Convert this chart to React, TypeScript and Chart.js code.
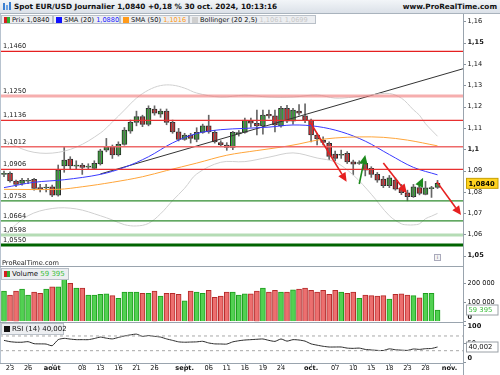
import React, { useEffect, useRef } from "react";
import { Chart, registerables } from "chart.js";
Chart.register(...registerables);

// ---------------- DATA ----------------
const OPEN = [1.0882, 1.0887, 1.0851, 1.0840, 1.0850, 1.0859, 1.0818, 1.0818, 1.0824, 1.0785, 1.0922, 1.0954, 1.0921, 1.0926, 1.0916, 1.0910, 1.0931, 1.0996, 1.1012, 1.0973, 1.1023, 1.1085, 1.1126, 1.1153, 1.1117, 1.1189, 1.1165, 1.1179, 1.1126, 1.1082, 1.1046, 1.1067, 1.1046, 1.1079, 1.1110, 1.1079, 1.1031, 1.1020, 1.1009, 1.1072, 1.1079, 1.1132, 1.1122, 1.1110, 1.1164, 1.1157, 1.1110, 1.1192, 1.1132, 1.1179, 1.1157, 1.1137, 1.1067, 1.1043, 1.1028, 1.0977, 1.0972, 1.0981, 1.0941, 1.0933, 1.0934, 1.0910, 1.0882, 1.0860, 1.0829, 1.0855, 1.0813, 1.0796, 1.0777, 1.0820, 1.0788, 1.0815, 1.0821];
const HIGH = [1.0898, 1.0894, 1.0855, 1.0863, 1.0863, 1.0863, 1.0835, 1.0835, 1.0832, 1.0926, 1.1012, 1.0965, 1.0946, 1.0934, 1.0932, 1.0946, 1.1000, 1.1051, 1.1020, 1.1035, 1.1102, 1.1137, 1.1179, 1.1160, 1.1204, 1.1204, 1.1189, 1.1189, 1.1137, 1.1098, 1.1075, 1.1075, 1.1101, 1.1118, 1.1160, 1.1089, 1.1040, 1.1031, 1.1084, 1.1088, 1.1146, 1.1146, 1.1184, 1.1184, 1.1184, 1.1184, 1.1202, 1.1206, 1.1192, 1.1210, 1.1213, 1.1142, 1.1075, 1.1058, 1.1035, 1.0992, 1.0996, 1.0989, 1.0949, 1.0946, 1.0946, 1.0918, 1.0891, 1.0873, 1.0877, 1.0865, 1.0835, 1.0808, 1.0835, 1.0835, 1.0849, 1.0826, 1.0854];
const LOW = [1.0871, 1.0845, 1.0824, 1.0832, 1.0838, 1.0808, 1.0800, 1.0800, 1.0777, 1.0780, 1.0892, 1.0907, 1.0907, 1.0882, 1.0907, 1.0907, 1.0926, 1.0988, 1.0957, 1.0968, 1.1019, 1.1075, 1.1110, 1.1106, 1.1110, 1.1160, 1.1150, 1.1115, 1.1075, 1.1039, 1.1042, 1.1029, 1.1035, 1.1075, 1.1075, 1.1029, 1.1012, 1.0995, 1.0998, 1.1062, 1.1075, 1.1104, 1.1067, 1.1071, 1.1146, 1.1082, 1.1104, 1.1125, 1.1118, 1.1160, 1.1125, 1.1035, 1.1020, 1.1020, 1.0951, 1.0945, 1.0957, 1.0933, 1.0880, 1.0929, 1.0875, 1.0868, 1.0845, 1.0820, 1.0820, 1.0808, 1.0787, 1.0758, 1.0774, 1.0786, 1.0786, 1.0774, 1.0816];
const CLOSE = [1.0885, 1.0851, 1.0835, 1.0854, 1.0852, 1.0816, 1.0815, 1.0822, 1.0785, 1.0902, 1.0949, 1.0922, 1.0924, 1.0915, 1.0919, 1.0934, 1.0993, 1.1012, 1.0973, 1.1023, 1.1090, 1.1126, 1.1153, 1.1117, 1.1192, 1.1169, 1.1179, 1.1126, 1.1082, 1.1046, 1.1067, 1.1051, 1.1079, 1.1110, 1.1082, 1.1035, 1.1020, 1.1009, 1.1079, 1.1078, 1.1137, 1.1122, 1.1110, 1.1160, 1.1157, 1.1114, 1.1192, 1.1132, 1.1184, 1.1169, 1.1137, 1.1067, 1.1048, 1.1032, 1.0967, 1.0957, 1.0974, 1.0941, 1.0930, 1.0935, 1.0902, 1.0882, 1.0855, 1.0829, 1.0866, 1.0813, 1.0796, 1.0777, 1.0824, 1.0793, 1.0819, 1.0817, 1.0840];
const VOLUME = [159000, 138000, 159000, 170000, 138000, 153000, 147000, 170000, 181000, 181000, 226000, 200000, 174000, 174000, 138000, 138000, 142000, 144000, 135000, 121000, 153000, 153000, 153000, 147000, 147000, 159000, 133000, 147000, 147000, 142000, 108000, 159000, 153000, 147000, 163000, 126000, 133000, 153000, 153000, 138000, 144000, 144000, 159000, 174000, 153000, 163000, 153000, 153000, 165000, 170000, 174000, 163000, 153000, 163000, 142000, 163000, 153000, 147000, 153000, 121000, 138000, 135000, 133000, 135000, 117000, 142000, 145000, 138000, 135000, 124000, 147000, 147000, 59395];
const RSI = [58, 54.5, 53, 53, 54.5, 49, 48.5, 48, 43.6, 60, 63.5, 61.5, 60, 60, 60, 63, 67, 64, 62, 66, 70, 73, 75, 69, 71, 69, 67, 62, 58, 54, 53, 53.5, 54, 55.5, 51, 48.5, 48.2, 48, 54, 57, 59, 60, 61, 61.8, 58, 55.3, 61.8, 56, 60, 59, 56, 48.5, 45, 42, 40, 40, 40, 37, 36.3, 37, 33.5, 32, 30.8, 30.5, 35, 32.5, 31.5, 30.8, 34.6, 33.5, 35.4, 36, 40.002];

const SMA20_X = [0, 5, 10, 16, 20, 24, 28, 32, 36, 40, 44, 48, 52, 56, 60, 64, 68, 72];
const SMA20_Y = [1.0820, 1.0845, 1.0857, 1.0882, 1.0915, 1.0965, 1.1030, 1.1074, 1.1092, 1.1098, 1.1104, 1.1114, 1.1107, 1.1082, 1.1038, 1.0975, 1.0915, 1.0880];
const SMA50_X = [0, 9, 13, 18, 23, 27, 32, 37, 42, 46, 49, 52, 55, 59, 63, 67, 72];
const SMA50_Y = [1.0812, 1.0812, 1.0824, 1.0845, 1.0871, 1.0900, 1.0935, 1.0972, 1.0994, 1.1010, 1.1025, 1.1043, 1.1053, 1.1058, 1.1056, 1.1043, 1.1016];
const BB_X = [0, 4, 8, 12, 16, 18, 20, 22, 24, 26, 28, 30, 32, 36, 40, 44, 48, 52, 55, 58, 61, 64, 66, 67, 68, 69, 70, 71, 72];
const BB_UP = [1.1043, 1.0992, 1.0982, 1.1010, 1.1076, 1.1128, 1.1184, 1.1240, 1.1278, 1.1299, 1.1301, 1.1287, 1.1264, 1.1245, 1.1254, 1.1245, 1.1245, 1.1255, 1.1240, 1.1245, 1.1255, 1.1262, 1.1240, 1.1215, 1.1185, 1.1160, 1.1120, 1.1090, 1.1061];
const BB_LOW = [1.0597, 1.0688, 1.0722, 1.0720, 1.0688, 1.0668, 1.0646, 1.0640, 1.0652, 1.0697, 1.0759, 1.0817, 1.0884, 1.0939, 1.0942, 1.0963, 1.0983, 1.0959, 1.0940, 1.0879, 1.0789, 1.0688, 1.0650, 1.0645, 1.0645, 1.0650, 1.0674, 1.0686, 1.0699];

const LEVELS = [1.1460, 1.1250, 1.1136, 1.1012, 1.0906, 1.0758, 1.0664, 1.0598, 1.0550];
const LEVEL_LABELS = ["1,1460", "1,1250", "1,1136", "1,1012", "1,0906", "1,0758", "1,0664", "1,0598", "1,0550"];
const LEVEL_COLORS = ["#e52020", "rgba(240,120,120,0.6)", "#e83030", "#ee6a6a", "#e83030", "#2e8b2e", "#2e8b2e", "#b5dcb5", "#006400"];
const LEVEL_WIDTHS = [1.2, 3, 1.2, 1.6, 1.2, 1.2, 1.2, 3, 3];

const TREND_X = [16, 76.25];
const TREND_Y = [1.0884, 1.1378];

const ARROW_X0 = [50.8, 59.0, 63.0, 68.9, 71.9];
const ARROW_Y0 = [1.1129, 1.0837, 1.0935, 1.0824, 1.0847];
const ARROW_X1 = [56.9, 60.0, 66.9, 69.6, 75.9];
const ARROW_Y1 = [1.0847, 1.0973, 1.0794, 1.0866, 1.0691];
const ARROW_COLORS = ["#e62020", "#1d8a1d", "#e62020", "#1d8a1d", "#e62020"];

const X_TICKS = [1, 4, 8, 13, 16, 19, 22, 25, 30, 34, 37, 40, 43, 46, 51, 55, 58, 61, 64, 67, 70, 74];
const X_TICK_LABELS = ["23", "26", "août", "08", "13", "16", "21", "26", "sept.", "06", "11", "16", "19", "24", "oct.", "07", "10", "15", "18", "23", "28", "nov."];
const X_TICK_BOLD = ["août", "sept.", "oct.", "nov."];

const PRICE_TICKS = [1.05, 1.06, 1.07, 1.08, 1.09, 1.1, 1.11, 1.12, 1.13, 1.14, 1.15, 1.16];
const PRICE_TICK_LABELS = ["1,05", "1,06", "1,07", "1,08", "1,09", "1,1", "1,11", "1,12", "1,13", "1,14", "1,15", "1,16"];
const PRICE_TICK_BOLD = ["1,05", "1,1", "1,15"];
const VOL_TICKS = [0, 100000, 200000];
const VOL_TICK_LABELS = ["0", "100 000", "200 000"];
const VOL_TICK_BOLD = ["0"];
const RSI_TICKS = [0, 50, 100];
const RSI_TICK_LABELS = ["0", "50", "100"];
const RSI_TICK_BOLD = ["0", "100"];
const RSI_LEVELS = [70, 30];

const X_MIN = -0.664;
const X_MAX = 76.23;
const FONT = "'DejaVu Sans', sans-serif";

// ---------------- HELPERS ----------------
const N = CLOSE.length;
const up = (i: number) => CLOSE[i] >= OPEN[i];
const pts = (xs: number[], ys: number[]) => xs.map((x, i) => ({ x, y: ys[i] }));

const rightAxisPlugin = {
  id: "rightAxis",
  afterDraw(chart: any) {
    const o = chart.options.plugins.rightAxis;
    if (!o) return;
    const { ctx, chartArea } = chart;
    const ys = chart.scales.y;
    ctx.save();
    ctx.textBaseline = "middle";
    ctx.textAlign = "left";
    o.ticks.forEach((v: number, k: number) => {
      let y = ys.getPixelForValue(v);
      const lab = o.labels[k];
      if (y >= chartArea.top && y <= chartArea.bottom) {
        ctx.strokeStyle = "#8a949e";
        ctx.lineWidth = 1;
        ctx.beginPath();
        ctx.moveTo(chartArea.right, Math.round(y) + 0.5);
        ctx.lineTo(chartArea.right + 3, Math.round(y) + 0.5);
        ctx.stroke();
      }
      y = Math.min(Math.max(y, chartArea.top + 4.7), chartArea.bottom - 4.5);
      ctx.font = (o.bold.includes(lab) ? "bold " : "") + "6.6px " + FONT;
      ctx.fillStyle = "#111";
      ctx.fillText(lab, chartArea.right + 4.5, y);
    });
    if (o.tag) {
      const y = ys.getPixelForValue(o.tag.value);
      ctx.font = (o.tag.bold ? "bold " : "") + "6.8px " + FONT;
      const w = 30;
      ctx.fillStyle = o.tag.bg;
      ctx.fillRect(chartArea.right + 3.5, y - 5, w + 1.5, 10);
      ctx.strokeStyle = o.tag.border;
      ctx.lineWidth = 1;
      ctx.strokeRect(chartArea.right + 3.5, y - 5, w + 1.5, 10);
      ctx.fillStyle = o.tag.color;
      ctx.fillText(o.tag.text, chartArea.right + 5.5, y + 0.5);
    }
    ctx.restore();
  },
};

const priceExtrasPlugin = {
  id: "priceExtras",
  afterDatasetsDraw(chart: any) {
    const { ctx, chartArea, scales } = chart;
    const xs = scales.x;
    const ys = scales.y;
    ctx.save();
    ctx.beginPath();
    ctx.rect(chartArea.left, chartArea.top, chartArea.right - chartArea.left, chartArea.bottom - chartArea.top);
    ctx.clip();
    ctx.font = "6.6px " + FONT;
    ctx.fillStyle = "#222";
    ctx.textBaseline = "alphabetic";
    LEVELS.forEach((v, k) => {
      const y = ys.getPixelForValue(v);
      ctx.fillText(LEVEL_LABELS[k], chartArea.left + 3, y - 3);
    });
    ARROW_X0.forEach((x0v, k) => {
      const x0 = xs.getPixelForValue(x0v);
      const y0 = ys.getPixelForValue(ARROW_Y0[k]);
      const x1 = xs.getPixelForValue(ARROW_X1[k]);
      const y1 = ys.getPixelForValue(ARROW_Y1[k]);
      const ang = Math.atan2(y1 - y0, x1 - x0);
      const hl = 9, hw = 4.2;
      const bx = x1 - hl * Math.cos(ang);
      const by = y1 - hl * Math.sin(ang);
      ctx.strokeStyle = ARROW_COLORS[k];
      ctx.fillStyle = ARROW_COLORS[k];
      ctx.lineWidth = 1.6;
      ctx.beginPath();
      ctx.moveTo(x0, y0);
      ctx.lineTo(bx, by);
      ctx.stroke();
      ctx.beginPath();
      ctx.moveTo(x1, y1);
      ctx.lineTo(bx + hw * Math.sin(ang), by - hw * Math.cos(ang));
      ctx.lineTo(bx - hw * Math.sin(ang), by + hw * Math.cos(ang));
      ctx.closePath();
      ctx.fill();
    });
    ctx.restore();
  },
};

const xLabelsPlugin = {
  id: "xLabels",
  afterDraw(chart: any) {
    if (!chart.options.plugins.xLabels) return;
    const { ctx, chartArea, scales } = chart;
    const xs = scales.x;
    ctx.save();
    ctx.textAlign = "center";
    ctx.textBaseline = "middle";
    ctx.strokeStyle = "#8a949e";
    ctx.lineWidth = 1;
    X_TICKS.forEach((v, k) => {
      const x = xs.getPixelForValue(v);
      if (x > chartArea.right) return;
      ctx.beginPath();
      ctx.moveTo(Math.round(x) + 0.5, chartArea.bottom);
      ctx.lineTo(Math.round(x) + 0.5, chartArea.bottom + 3);
      ctx.stroke();
      const lab = X_TICK_LABELS[k];
      ctx.font = (X_TICK_BOLD.includes(lab) ? "bold " : "") + "6.6px " + FONT;
      ctx.fillStyle = "#111";
      ctx.fillText(lab, x, chartArea.bottom + 5.5);
    });
    ctx.restore();
  },
};

function makeOptions(yMin: number, yMax: number, padding: any, plugins: any) {
  return {
    responsive: false,
    animation: false as const,
    maintainAspectRatio: false,
    layout: { padding },
    events: [],
    scales: {
      x: { type: "linear" as const, min: X_MIN, max: X_MAX, display: false, offset: false, bounds: "data" },
      y: { type: "linear" as const, min: yMin, max: yMax, display: false, offset: false, beginAtZero: false },
    },
    plugins: {
      legend: { display: false },
      tooltip: { enabled: false },
      ...plugins,
    },
  };
}

function useChart(ref: React.RefObject<HTMLCanvasElement>, build: () => any) {
  useEffect(() => {
    if (!ref.current) return;
    const chart = new Chart(ref.current, build());
    return () => chart.destroy();
  }, []);
}

export default function App() {
  const priceRef = useRef<HTMLCanvasElement>(null);
  const volRef = useRef<HTMLCanvasElement>(null);
  const rsiRef = useRef<HTMLCanvasElement>(null);

  useChart(priceRef, () => {
    const idx = CLOSE.map((_, i) => i);
    const lineDs = (data: any[], color: string, width = 1, extra: any = {}) => ({
      type: "line",
      data,
      borderColor: color,
      borderWidth: width,
      pointRadius: 0,
      fill: false,
      tension: 0.35,
      ...extra,
    });
    const datasets: any[] = [];
    LEVELS.forEach((v, k) => {
      datasets.push(
        lineDs([{ x: X_MIN, y: v }, { x: X_MAX, y: v }], LEVEL_COLORS[k], LEVEL_WIDTHS[k], { tension: 0 })
      );
    });
    datasets.push(lineDs(pts(BB_X, BB_UP), "#d0d0d0", 1));
    datasets.push(lineDs(pts(BB_X, BB_LOW), "#d0d0d0", 1));
    datasets.push(lineDs(pts(SMA50_X, SMA50_Y), "#ffa53a", 1));
    datasets.push(lineDs(pts(SMA20_X, SMA20_Y), "#3a3aff", 1));
    datasets.push(lineDs(pts(TREND_X, TREND_Y), "#333333", 1, { tension: 0 }));
    datasets.push({
      type: "bar",
      data: idx.map((i) => ({ x: i, y: [LOW[i], HIGH[i]] })),
      backgroundColor: "#666",
      borderWidth: 0,
      barThickness: 1,
      grouped: false,
    });
    datasets.push({
      type: "bar",
      data: idx.map((i) => ({ x: i, y: [Math.min(OPEN[i], CLOSE[i]), Math.max(OPEN[i], CLOSE[i])] })),
      backgroundColor: idx.map((i) => (up(i) ? "#2fb52f" : "#e8262a")),
      borderColor: "#2a2a2a",
      borderWidth: 1,
      borderSkipped: false,
      minBarLength: 1,
      barThickness: 5,
      grouped: false,
    });
    return {
      type: "bar",
      data: { datasets },
      options: makeOptions(1.0452, 1.1635, { left: 0, right: 37, top: 0, bottom: 0 }, {
        rightAxis: {
          ticks: PRICE_TICKS,
          labels: PRICE_TICK_LABELS,
          bold: PRICE_TICK_BOLD,
          tag: { value: CLOSE[N - 1], text: "1,0840", bg: "#ffd21f", border: "#c8a000", color: "#000", bold: true },
        },
      }),
      plugins: [priceExtrasPlugin, rightAxisPlugin],
    };
  });

  useChart(volRef, () => {
    const idx = VOLUME.map((_, i) => i);
    return {
      type: "bar",
      data: {
        datasets: [
          {
            data: idx.map((i) => ({ x: i, y: VOLUME[i] })),
            backgroundColor: idx.map((i) => (up(i) ? "#52d152" : "#ec6f6f")),
            borderColor: idx.map((i) => (up(i) ? "#1e9e1e" : "#b52a2a")),
            borderWidth: 1,
            borderSkipped: "bottom",
            barThickness: 5,
            grouped: false,
          },
        ],
      },
      options: makeOptions(0, 287000, { left: 0, right: 37, top: 6.7, bottom: 6.7 }, {
        rightAxis: {
          ticks: VOL_TICKS,
          labels: VOL_TICK_LABELS,
          bold: VOL_TICK_BOLD,
          tag: { value: VOLUME[N - 1], text: "59 395", bg: "#ffffff", border: "#9aa0a6", color: "#3cbf3c", bold: false },
        },
      }),
      plugins: [rightAxisPlugin],
    };
  });

  useChart(rsiRef, () => {
    const idx = RSI.map((_, i) => i);
    const datasets: any[] = RSI_LEVELS.map((v) => ({
      type: "line",
      data: [{ x: X_MIN, y: v }, { x: X_MAX, y: v }],
      borderColor: "#a8a8a8",
      borderWidth: 1,
      borderDash: [3, 3],
      pointRadius: 0,
    }));
    datasets.push({
      type: "line",
      data: idx.map((i) => ({ x: i, y: RSI[i] })),
      borderColor: "#2a2a2a",
      borderWidth: 1,
      pointRadius: 0,
      tension: 0.2,
    });
    return {
      type: "line",
      data: { datasets },
      options: makeOptions(-3.5, 108, { left: 0, right: 37, top: 6, bottom: 12 }, {
        rightAxis: {
          ticks: RSI_TICKS,
          labels: RSI_TICK_LABELS,
          bold: RSI_TICK_BOLD,
          tag: { value: RSI[N - 1], text: "40,002", bg: "#ffffff", border: "#9aa0a6", color: "#111", bold: false },
        },
        xLabels: true,
      }),
      plugins: [rightAxisPlugin, xLabelsPlugin],
    };
  });

  const abs = (s: React.CSSProperties): React.CSSProperties => ({ position: "absolute", ...s });
  const legendBox: React.CSSProperties = {
    position: "absolute",
    height: 9,
    top: 15,
    background: "#eceef1",
    border: "1px solid #b9c0c8",
    boxSizing: "border-box",
    fontSize: "6.6px",
    lineHeight: "8px",
    whiteSpace: "nowrap",
    paddingLeft: 10,
    color: "#111",
  };
  const sq = (c: string, left = 2): React.CSSProperties => ({
    position: "absolute",
    left,
    top: 1,
    width: 6,
    height: 6,
    background: c,
  });

  return (
    <div
      style={{
        position: "fixed",
        left: 0,
        top: 0,
        width: 500,
        height: 375,
        background: "#fff",
        overflow: "hidden",
        fontFamily: FONT,
      }}
    >
      <canvas ref={priceRef} width={500} height={252} style={abs({ left: 0, top: 14, width: 500, height: 252 })} />
      <canvas ref={volRef} width={500} height={68} style={abs({ left: 0, top: 260, width: 500, height: 68 })} />
      <canvas ref={rsiRef} width={500} height={59} style={abs({ left: 0, top: 316, width: 500, height: 59 })} />

      <div style={abs({ left: 0, top: 14, width: 1, height: 350, background: "#b8c3cf" })} />
      <div style={abs({ left: 463, top: 14, width: 1, height: 361, background: "#9aa4ae" })} />
      <div style={abs({ left: 0, top: 266, width: 463, height: 1, background: "#9aa4ae" })} />
      <div style={abs({ left: 0, top: 322, width: 463, height: 1, background: "#9aa4ae" })} />
      <div style={abs({ left: 0, top: 363, width: 463, height: 1, background: "#9aa4ae" })} />

      <div
        style={abs({
          left: 0,
          top: 0,
          width: 500,
          height: 13,
          background: "linear-gradient(#f2f5f8, #dbe1e8)",
          borderBottom: "1px solid #a9b3bd",
          fontSize: "7.3px",
          fontWeight: "bold",
          lineHeight: "13px",
          color: "#111",
        })}
      >
        <span style={abs({ left: 3, top: 3, width: 2, height: 7, background: "#3b7fd0" })} />
        <span style={abs({ left: 6, top: 5, width: 2, height: 5, background: "#6aa3e6" })} />
        <span style={abs({ left: 9, top: 2, width: 2, height: 8, background: "#3b7fd0" })} />
        <span style={abs({ left: 14, top: 0 })}>Spot EUR/USD Journalier 1,0840 +0,18 % 30 oct. 2024, 10:13:16</span>
        <span style={abs({ right: 3, top: 0 })}>www.ProRealTime.com</span>
      </div>

      <div style={{ ...legendBox, left: 1, width: 52 }}>
        <span style={sq("#d42020", 2)} />
        <span style={{ ...sq("#2fae2f", 5), width: 3 }} />
        Prix 1,0840
      </div>
      <div style={{ ...legendBox, left: 53, width: 67 }}>
        <span style={sq("#1010ff")} />
        SMA (20) <span style={{ color: "#1a1aff" }}>1,0880</span>
      </div>
      <div style={{ ...legendBox, left: 120, width: 69 }}>
        <span style={sq("#ff9a1a")} />
        SMA (50) <span style={{ color: "#ff9a1a" }}>1,1016</span>
      </div>
      <div style={{ ...legendBox, left: 189, width: 127 }}>
        <span style={sq("#cfcfcf")} />
        Bollinger (20 2,5) <span style={{ color: "#c8c8c8" }}>1,1061 1,0699</span>
      </div>

      <div style={abs({ left: 2, top: 259, fontSize: "6.6px", color: "#222", lineHeight: "8px" })}>ProRealTime.com</div>
      <div
        style={abs({
          left: 434,
          top: 254,
          width: 7,
          height: 7,
          border: "1px solid #aab",
          boxSizing: "border-box",
          fontSize: "5px",
          lineHeight: "5px",
          textAlign: "center",
          color: "#667",
          background: "#f4f4f4",
        })}
      >
        i
      </div>

      <div style={{ ...legendBox, top: 268, left: 1, width: 68, height: 12, lineHeight: "10px", fontSize: "7px" }}>
        <span style={{ ...sq("#d42020", 2), top: 2 }} />
        <span style={{ ...sq("#2fae2f", 5), width: 3, top: 2 }} />
        Volume <span style={{ color: "#3cbf3c" }}>59 395</span>
      </div>
      <div style={{ ...legendBox, top: 323, left: 1, width: 63, height: 12, lineHeight: "10px", fontSize: "7px" }}>
        <span style={{ ...sq("#111", 2), top: 2 }} />
        RSI (14) 40,002
      </div>
    </div>
  );
}
